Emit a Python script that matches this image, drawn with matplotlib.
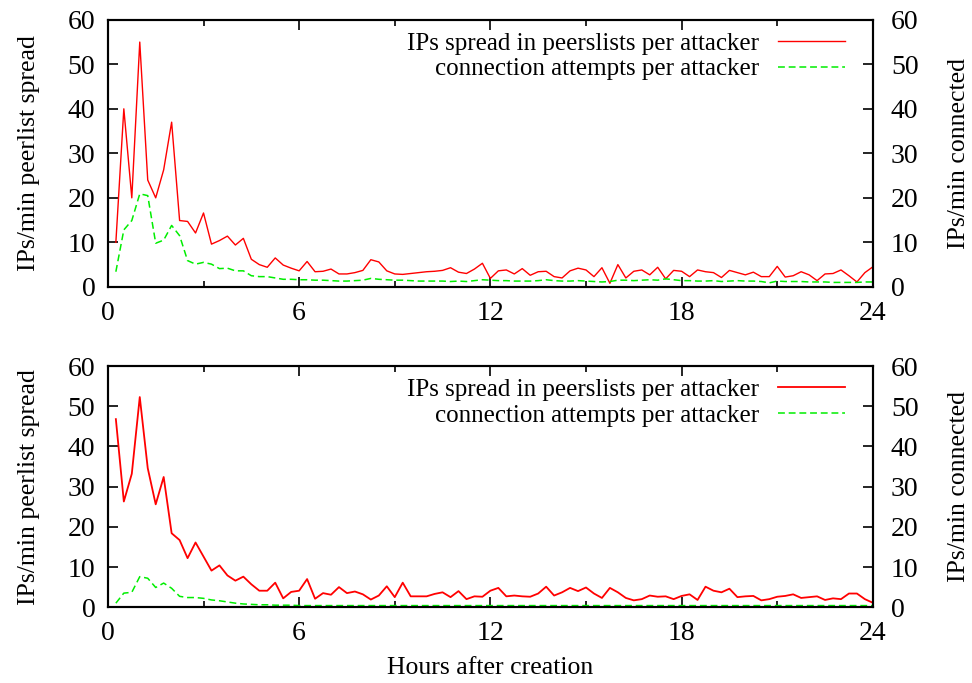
import numpy as np
import matplotlib
matplotlib.use("Agg")
import matplotlib.pyplot as plt
from matplotlib.ticker import MultipleLocator

# hours after creation, one sample every 15 minutes
hours = np.arange(1, 97) * 0.25

# top panel
top_spread = [
    10, 40, 20, 55, 24, 20, 26.3, 37, 14.9, 14.7, 12.1, 16.6,
    9.6, 10.4, 11.4, 9.4, 10.9, 6.2, 5.0, 4.4, 6.5, 4.9, 4.2, 3.6,
    5.7, 3.4, 3.5, 4.0, 2.9, 2.9, 3.2, 3.7, 6.1, 5.6, 3.6, 2.9,
    2.8, 3.0, 3.2, 3.4, 3.5, 3.7, 4.3, 3.3, 3.0, 4.0, 5.3, 1.9,
    3.6, 3.8, 2.9, 4.1, 2.6, 3.4, 3.5, 2.3, 2.0, 3.6, 4.2, 3.8,
    2.3, 4.3, 0.8, 5.0, 2.0, 3.5, 3.8, 2.7, 4.4, 1.8, 3.7, 3.5,
    2.3, 3.8, 3.4, 3.2, 2.1, 3.7, 3.2, 2.7, 3.3, 2.3, 2.3, 4.6,
    2.2, 2.5, 3.4, 2.7, 1.4, 2.9, 3.0, 3.8, 2.5, 1.1, 3.2, 4.5,
]
top_connect = [
    3.4, 12.8, 14.9, 20.9, 20.5, 9.8, 10.5, 13.8, 11.5, 5.9, 5.1, 5.5,
    5.1, 4.1, 4.2, 3.6, 3.6, 2.5, 2.3, 2.3, 2.0, 1.7, 1.7, 1.6,
    1.6, 1.5, 1.5, 1.4, 1.3, 1.3, 1.4, 1.5, 1.9, 1.7, 1.6, 1.5,
    1.5, 1.4, 1.3, 1.3, 1.3, 1.3, 1.2, 1.3, 1.2, 1.4, 1.6, 1.5,
    1.4, 1.4, 1.3, 1.3, 1.3, 1.4, 1.6, 1.4, 1.3, 1.3, 1.4, 1.3,
    1.2, 1.1, 1.2, 1.5, 1.5, 1.4, 1.5, 1.6, 1.5, 1.8, 1.6, 1.4,
    1.4, 1.3, 1.3, 1.4, 1.2, 1.3, 1.4, 1.3, 1.3, 1.2, 0.9, 1.3,
    1.2, 1.2, 1.2, 1.1, 1.1, 1.1, 1.0, 1.0, 1.0, 1.0, 1.1, 1.1,
]

# bottom panel
bot_spread = [
    46.8, 26.3, 33.2, 52.3, 34.6, 25.6, 32.4, 18.4, 16.7, 12.2, 16.1, 12.6,
    9.1, 10.4, 7.9, 6.6, 7.6, 5.7, 4.1, 4.1, 6.1, 2.2, 3.8, 4.1,
    7.0, 2.1, 3.5, 3.1, 5.0, 3.5, 3.9, 3.2, 1.9, 2.9, 5.2, 2.5,
    6.1, 2.7, 2.7, 2.7, 3.3, 3.7, 2.5, 4.0, 2.0, 2.7, 2.6, 4.1,
    4.8, 2.7, 2.9, 2.7, 2.6, 3.4, 5.1, 2.9, 3.7, 4.8, 4.0, 4.9,
    3.4, 2.3, 4.8, 3.7, 2.3, 1.7, 2.0, 2.9, 2.6, 2.7, 2.0, 2.8,
    3.2, 1.8, 5.1, 4.1, 3.7, 4.6, 2.5, 2.7, 2.8, 1.7, 2.0, 2.6,
    2.8, 3.2, 2.3, 2.5, 2.7, 1.8, 2.2, 2.0, 3.4, 3.4, 2.0, 1.1,
]
bot_connect = [
    1.0, 3.5, 3.7, 7.6, 7.2, 4.9, 6.0, 4.7, 2.7, 2.4, 2.4, 2.2,
    1.8, 1.6, 1.3, 1.0, 0.8, 0.7, 0.6, 0.6, 0.5, 0.5, 0.5, 0.4,
    0.4, 0.4, 0.4, 0.4, 0.4, 0.4, 0.4, 0.4, 0.4, 0.4, 0.4, 0.4,
    0.4, 0.4, 0.4, 0.4, 0.4, 0.4, 0.4, 0.4, 0.4, 0.4, 0.4, 0.4,
    0.4, 0.4, 0.4, 0.4, 0.4, 0.4, 0.4, 0.4, 0.4, 0.4, 0.4, 0.4,
    0.4, 0.4, 0.4, 0.4, 0.4, 0.4, 0.4, 0.4, 0.4, 0.4, 0.4, 0.4,
    0.4, 0.4, 0.4, 0.4, 0.4, 0.4, 0.4, 0.4, 0.4, 0.4, 0.4, 0.4,
    0.4, 0.4, 0.4, 0.4, 0.4, 0.4, 0.4, 0.4, 0.4, 0.4, 0.4, 0.4,
]

x_ticks = [0, 6, 12, 18, 24]
label_spread = "IPs spread in peerslists per attacker"
label_connect = "connection attempts per attacker"

plt.rcParams["font.family"] = ["Liberation Serif", "DejaVu Serif"]
plt.rcParams["font.size"] = 19

fig = plt.figure(figsize=(9.72, 6.83), dpi=100)
ax_top = fig.add_axes([0.111, 0.580, 0.787, 0.391])
ax_bot = fig.add_axes([0.111, 0.111, 0.787, 0.353])


def style_panel(ax, spread, connect, red_lw):
    ax.plot(hours, spread, color="#ff0000", lw=red_lw, label=label_spread)
    ax.plot(hours, connect, color="#00ee00", lw=1.1, dashes=(4.5, 2.5), label=label_connect)
    ax.set_xlim(0, 24)
    ax.set_ylim(0, 60)
    ax.set_xticks(x_ticks)
    ax.xaxis.set_minor_locator(MultipleLocator(3))
    ax.yaxis.set_major_locator(MultipleLocator(10))
    ax.tick_params(which="both", direction="in", top=True, right=False, width=1.2,
                   labelsize=20)
    ax.tick_params(axis="y", which="major", length=7, pad=9)
    ax.tick_params(axis="x", which="major", length=7, pad=10)
    ax.tick_params(which="minor", length=4)
    for sp in ax.spines.values():
        sp.set_linewidth(1.5)
    ax.set_ylabel("IPs/min peerlist spread", fontsize=18.5, labelpad=20)
    ax.legend(loc="upper right", bbox_to_anchor=(0.98, 1.0), frameon=False,
              markerfirst=False, fontsize=18,
              handlelength=2.7, handletextpad=0.75, labelspacing=0.12,
              borderaxespad=0.3, borderpad=0.2)

    ax2 = ax.twinx()
    ax2.set_ylim(0, 60)
    ax2.yaxis.set_major_locator(MultipleLocator(10))
    ax2.tick_params(direction="in", length=7, width=1.2, pad=13, labelsize=20)
    ax2.set_ylabel("IPs/min connected", fontsize=18.5, labelpad=21)
    for sp in ax2.spines.values():
        sp.set_linewidth(1.5)
    return ax2


style_panel(ax_top, top_spread, top_connect, 1.0)
style_panel(ax_bot, bot_spread, bot_connect, 1.3)
ax_bot.set_xlabel("Hours after creation", fontsize=18.5, labelpad=8)

fig.savefig("out.png", dpi=100)
